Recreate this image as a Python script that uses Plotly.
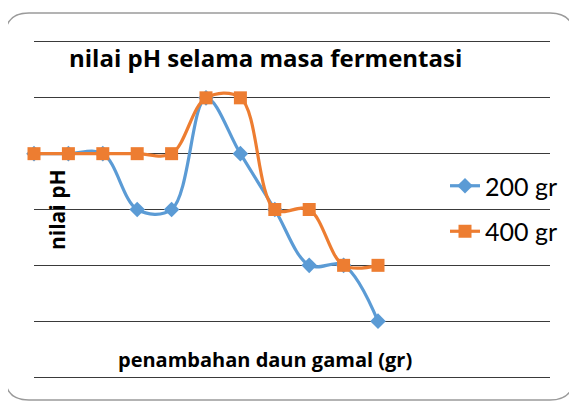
import plotly.graph_objects as go

# data (no axis labels shown, pH read against gridlines)
titik = [1, 2, 3, 4, 5, 6, 7, 8, 9, 10, 11]
ph_200 = [5, 5, 5, 4, 4, 6, 5, 4, 3, 3, 2]
ph_400 = [5, 5, 5, 5, 5, 6, 6, 4, 4, 3, 3]

BLUE = "#5B9BD5"
ORANGE = "#ED7D31"
FONT = "Lato"
TFONT = "Open Sans"

W, H = 577, 404
OFF = 8  # page body margin
L, T = 34 - OFF, 42 - OFF
PW, PH = 516, 335
R, B = W - L - PW, H - T - PH


def px(x):
    return (x - OFF - L) / PW


def py(y):
    return (T + PH + OFF - y) / PH


def rounded_box(x0, y0, x1, y1, r):
    # rounded rectangle path in paper units, corners given in pixels
    pts = [
        f"M{px(x0 + r)},{py(y0)}",
        f"L{px(x1 - r)},{py(y0)}",
        f"Q{px(x1)},{py(y0)} {px(x1)},{py(y0 + r)}",
        f"L{px(x1)},{py(y1 - r)}",
        f"Q{px(x1)},{py(y1)} {px(x1 - r)},{py(y1)}",
        f"L{px(x0 + r)},{py(y1)}",
        f"Q{px(x0)},{py(y1)} {px(x0)},{py(y1 - r)}",
        f"L{px(x0)},{py(y0 + r)}",
        f"Q{px(x0)},{py(y0)} {px(x0 + r)},{py(y0)}",
        "Z",
    ]
    return " ".join(pts)


fig = go.Figure()
fig.add_trace(go.Scatter(
    x=titik, y=ph_200, name="200 gr", mode="lines+markers",
    line=dict(color=BLUE, width=3.2, shape="spline", smoothing=1),
    marker=dict(symbol="diamond", size=12, color=BLUE),
    cliponaxis=False, legendgroup="a",
))
fig.add_trace(go.Scatter(
    x=titik, y=ph_400, name="400 gr", mode="lines+markers",
    line=dict(color=ORANGE, width=3.2, shape="spline", smoothing=1),
    marker=dict(symbol="square", size=13, color=ORANGE),
    cliponaxis=False, legendgroup="b",
))

fig.update_layout(
    width=W, height=H,
    margin=dict(l=L, r=R, t=T, b=B),
    paper_bgcolor="white", plot_bgcolor="white",
    font=dict(family=FONT, color="black"),
    legend=dict(
        x=px(445), y=py(163), xanchor="left", yanchor="top",
        font=dict(size=25, family=FONT), tracegroupgap=10,
        bgcolor="rgba(0,0,0,0)",
    ),
    shapes=[dict(
        type="path", xref="paper", yref="paper",
        path=rounded_box(5, 13, 574, 400, 24),
        line=dict(color="#9A9A9A", width=1.5), layer="below",
    )],
    annotations=[
        dict(text="<b>nilai pH selama masa fermentasi</b>", xref="paper", yref="paper",
             x=px(265), y=py(57), xanchor="center", yanchor="middle",
             showarrow=False, font=dict(size=24, family=TFONT)),
        dict(text="<b>penambahan daun gamal (gr)</b>", xref="paper", yref="paper",
             x=px(265), y=py(359), xanchor="center", yanchor="middle",
             showarrow=False, font=dict(size=20, family=TFONT)),
        dict(text="<b>nilai pH</b>", xref="paper", yref="paper",
             x=px(57), y=py(210), xanchor="center", yanchor="middle",
             textangle=-90, showarrow=False, font=dict(size=21, family=TFONT)),
    ],
)
fig.update_xaxes(range=[1, 16], showgrid=False, showticklabels=False, ticks="",
                 zeroline=False, showline=True, mirror=True, linecolor="#3A3A3A", linewidth=1)
fig.update_yaxes(range=[1, 7], dtick=1, showgrid=True, gridcolor="#3A3A3A", gridwidth=1,
                 showticklabels=False, ticks="", zeroline=False, showline=False)

fig.write_html("out.html")
